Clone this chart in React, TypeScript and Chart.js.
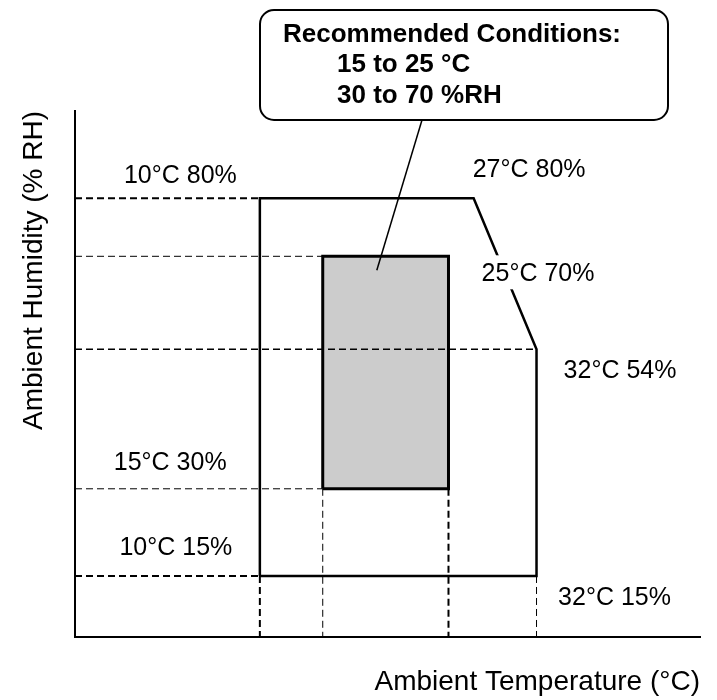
import React, { useEffect, useRef } from "react";
import { Chart, registerables } from "chart.js";

Chart.register(...registerables);

// ---- data ----
const X_MIN = -4.7;
const X_MAX = 45;
const Y_MIN = 4.5;
const Y_MAX = 95;

const OUTER_TEMP = [10, 10, 27, 32, 32, 10];
const OUTER_HUM = [15, 80, 80, 54, 15, 15];

const REC_TEMP = [15, 15, 25, 25, 15];
const REC_HUM = [30, 70, 70, 30, 30];

const H_GUIDE_HUM = [80, 70, 54, 30, 15];
const H_GUIDE_END_TEMP = [10, 15, 32, 15, 10];
const V_GUIDE_TEMP = [10, 15, 25, 32];
const V_GUIDE_TOP_HUM = [15, 30, 30, 15];

const POINT_LABELS = ["10°C 80%", "27°C 80%", "25°C 70%", "32°C 54%", "15°C 30%", "10°C 15%", "32°C 15%"];
const POINT_LABEL_TEMP = [10, 27, 25, 32, 15, 10, 32];
const POINT_LABEL_HUM = [80, 80, 70, 54, 30, 15, 15];

const CALLOUT_LINES = ["Recommended Conditions:", "15 to 25 °C", "30 to 70 %RH"];
const CALLOUT_TARGET_TEMP = 19.3;
const CALLOUT_TARGET_HUM = 67.6;

const X_TITLE = "Ambient Temperature (°C)";
const Y_TITLE = "Ambient Humidity (% RH)";

// ---- layout / styles ----
const FONT = '"Liberation Sans", Arial, sans-serif';
const LABEL_OFFSETS = [
  [-79.5, -15],
  [55.5, -21],
  [89.5, 25],
  [83.5, 29],
  [-152.5, -19],
  [-84, -21],
  [78, 29],
];
const LABEL_BG = [false, false, true, false, false, false, false];
const H_GUIDE_WIDTH = [2, 1, 1.5, 1, 2];
const V_GUIDE_WIDTH = [2, 1, 2, 1];
const CALLOUT_BOX = { left: 260, top: 10, right: 668, bottom: 120, radius: 14, pointerX: 422 };
const CALLOUT_TEXT_X = [283, 337, 337];
const CALLOUT_TEXT_BASE = [42, 72, 103];

function roundRectPath(ctx: CanvasRenderingContext2D, x: number, y: number, w: number, h: number, r: number) {
  ctx.beginPath();
  ctx.moveTo(x + r, y);
  ctx.lineTo(x + w - r, y);
  ctx.arcTo(x + w, y, x + w, y + r, r);
  ctx.lineTo(x + w, y + h - r);
  ctx.arcTo(x + w, y + h, x + w - r, y + h, r);
  ctx.lineTo(x + r, y + h);
  ctx.arcTo(x, y + h, x, y + h - r, r);
  ctx.lineTo(x, y + r);
  ctx.arcTo(x, y, x + r, y, r);
  ctx.closePath();
}

const annotPlugin = {
  id: "annot",
  afterDatasetsDraw(chart: any) {
    const ctx: CanvasRenderingContext2D = chart.ctx;
    const xs = chart.scales.x;
    const ys = chart.scales.y;
    ctx.save();
    ctx.font = `25px ${FONT}`;
    ctx.textAlign = "center";
    ctx.textBaseline = "alphabetic";
    POINT_LABELS.forEach((t, i) => {
      const px = xs.getPixelForValue(POINT_LABEL_TEMP[i]) + LABEL_OFFSETS[i][0];
      const py = ys.getPixelForValue(POINT_LABEL_HUM[i]) + LABEL_OFFSETS[i][1];
      if (LABEL_BG[i]) {
        const w = ctx.measureText(t).width;
        ctx.fillStyle = "#fff";
        ctx.fillRect(px - w / 2 - 2, py - 26, w + 4, 34);
      }
      ctx.fillStyle = "#000";
      ctx.fillText(t, px, py);
    });

    const b = CALLOUT_BOX;
    roundRectPath(ctx, b.left, b.top, b.right - b.left, b.bottom - b.top, b.radius);
    ctx.fillStyle = "#fff";
    ctx.fill();
    ctx.lineWidth = 2;
    ctx.strokeStyle = "#000";
    ctx.stroke();

    ctx.beginPath();
    ctx.moveTo(b.pointerX, b.bottom);
    ctx.lineTo(xs.getPixelForValue(CALLOUT_TARGET_TEMP), ys.getPixelForValue(CALLOUT_TARGET_HUM));
    ctx.lineWidth = 1.5;
    ctx.stroke();

    ctx.font = `bold 26px ${FONT}`;
    ctx.textAlign = "left";
    ctx.fillStyle = "#000";
    CALLOUT_LINES.forEach((t, i) => ctx.fillText(t, CALLOUT_TEXT_X[i], CALLOUT_TEXT_BASE[i]));
    ctx.restore();
  },
};

export default function App() {
  const ref = useRef<HTMLCanvasElement | null>(null);

  useEffect(() => {
    if (!ref.current) return;
    const pts = (xs: number[], ys: number[]) => xs.map((x, i) => ({ x, y: ys[i] }));

    const datasets: any[] = [];
    datasets.push({
      data: pts(REC_TEMP, REC_HUM),
      showLine: true,
      fill: "shape",
      backgroundColor: "#cccccc",
      borderColor: "#000",
      borderWidth: 3,
      borderJoinStyle: "miter",
      pointRadius: 0,
      order: 3,
    });
    H_GUIDE_HUM.forEach((h, i) => {
      datasets.push({
        data: [
          { x: X_MIN, y: h },
          { x: H_GUIDE_END_TEMP[i], y: h },
        ],
        showLine: true,
        borderColor: "#000",
        borderWidth: H_GUIDE_WIDTH[i],
        borderDash: [7, 4],
        pointRadius: 0,
        fill: false,
        order: 2,
      });
    });
    V_GUIDE_TEMP.forEach((t, i) => {
      datasets.push({
        data: [
          { x: t, y: V_GUIDE_TOP_HUM[i] },
          { x: t, y: Y_MIN },
        ],
        showLine: true,
        borderColor: "#000",
        borderWidth: V_GUIDE_WIDTH[i],
        borderDash: [7, 4],
        pointRadius: 0,
        fill: false,
        order: 2,
      });
    });
    datasets.push({
      data: pts(OUTER_TEMP, OUTER_HUM),
      showLine: true,
      borderColor: "#000",
      borderWidth: 2.5,
      borderJoinStyle: "miter",
      pointRadius: 0,
      fill: false,
      order: 1,
    });

    const chart = new Chart(ref.current, {
      type: "scatter",
      data: { datasets },
      options: {
        responsive: false,
        animation: false,
        events: [],
        layout: { padding: { top: 111, right: 17, left: 0, bottom: 0 } },
        plugins: { legend: { display: false }, tooltip: { enabled: false } },
        scales: {
          x: {
            type: "linear",
            min: X_MIN,
            max: X_MAX,
            ticks: { display: false },
            grid: { display: false, drawTicks: false },
            border: { display: true, color: "#000", width: 2 },
            title: {
              display: true,
              text: X_TITLE,
              align: "end",
              color: "#000",
              font: { size: 28, family: FONT },
              padding: { top: 28.2, bottom: 1.2 },
            },
          },
          y: {
            type: "linear",
            min: Y_MIN,
            max: Y_MAX,
            ticks: { display: false },
            grid: { display: false, drawTicks: false },
            border: { display: true, color: "#000", width: 2 },
            title: {
              display: true,
              text: Y_TITLE,
              align: "end",
              color: "#000",
              font: { size: 28, family: FONT },
              padding: { top: 17, bottom: 24.4 },
            },
          },
        },
      },
      plugins: [annotPlugin],
    } as any);
    return () => chart.destroy();
  }, []);

  return (
    <div style={{ position: "fixed", left: 0, top: 0, width: 717, height: 700, background: "#fff" }}>
      <canvas ref={ref} width={717} height={700} style={{ display: "block" }} />
    </div>
  );
}
